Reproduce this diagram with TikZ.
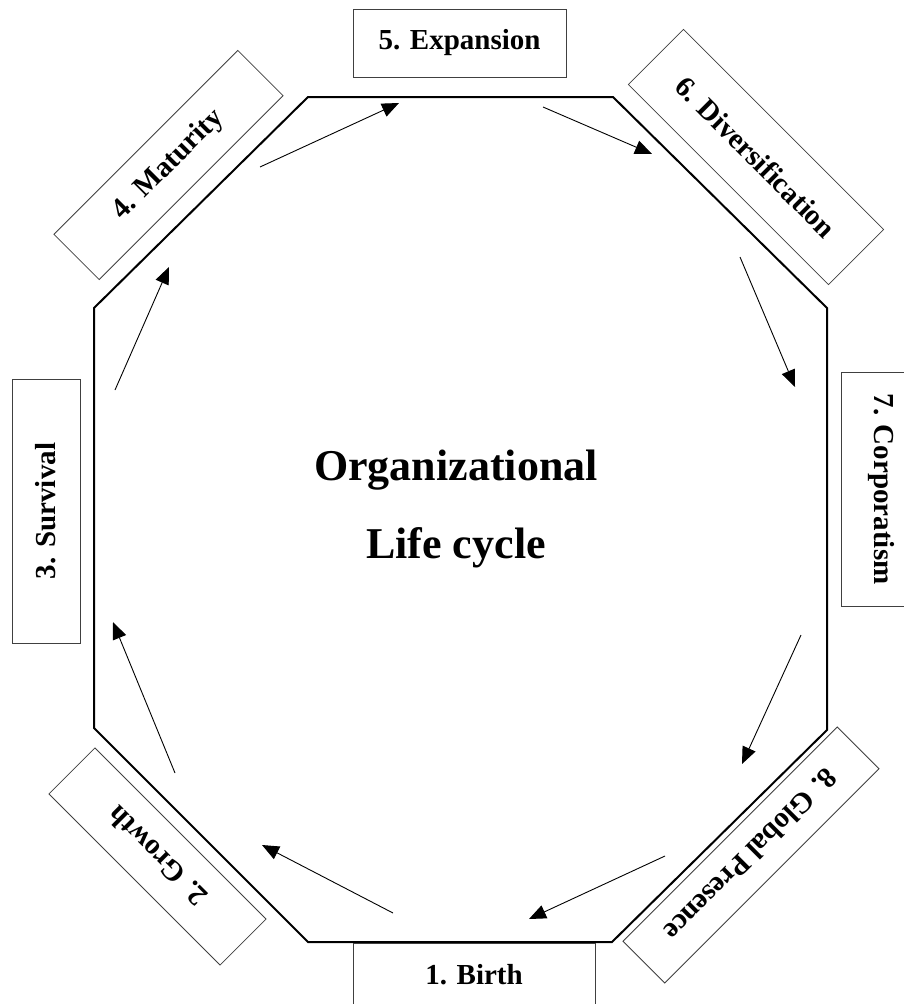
\documentclass[tikz,border=0pt]{standalone}
\usepackage{fontspec}
\setmainfont{Liberation Serif}
\usetikzlibrary{arrows.meta}
\tikzset{
  lab/.style={draw=black!75, line width=0.8pt, fill=white, inner sep=0pt,
    font=\fontsize{29}{34}\selectfont\bfseries, align=center},
  flow/.style={line width=0.9pt, -{Triangle[length=17pt,width=14pt]}},
  octa/.style={line width=2pt, line join=miter},
  title/.style={font=\fontsize{44}{78}\selectfont\bfseries, align=center}
}
\begin{document}
\begin{tikzpicture}[x=1pt,y=-1pt]
\useasboundingbox (0,0) rectangle (904,1004);
% octagon
\coordinate (o1) at (308,97);
\coordinate (o2) at (613,97);
\coordinate (o3) at (827,308);
\coordinate (o4) at (827,730);
\coordinate (o5) at (612,942);
\coordinate (o6) at (308,942);
\coordinate (o7) at (94,728);
\coordinate (o8) at (94,308);
\draw[octa] (o1) -- (o2) -- (o3) -- (o4) -- (o5) -- (o6) -- (o7) -- (o8) -- cycle;
% labels
\node[lab, minimum width=213pt, minimum height=68pt] (s5) at (459.5,43) {5. Expansion};
\node[lab, minimum width=283pt, minimum height=78pt, rotate=-45] (s6) at (756,157) {6. Diversification};
\node[lab, minimum width=234pt, minimum height=80pt, rotate=-90] (s7) at (881,489) {7. Corporatism};
\node[lab, minimum width=303pt, minimum height=59pt, rotate=-135] (s8) at (751,855) {8. Global Presence};
\node[lab, minimum width=242pt, minimum height=80pt, text height=20pt, text depth=17pt] (s1) at (474,983) {1. Birth};
\node[lab, minimum width=242pt, minimum height=65pt, rotate=135] (s2) at (157.5,856.5) {2. Growth};
\node[lab, minimum width=264pt, minimum height=68pt, rotate=90] (s3) at (46,511) {3. Survival};
\node[lab, minimum width=260pt, minimum height=64pt, rotate=45] (s4) at (168.5,165) {4. Maturity};
% title
\node[title] (t) at (456,509) {Organizational\\Life cycle};
% arrows
\coordinate (a1s) at (260,167); \coordinate (a1e) at (399,103);
\coordinate (a2s) at (543,107); \coordinate (a2e) at (652,154);
\coordinate (a3s) at (740,257); \coordinate (a3e) at (795,387);
\coordinate (a4s) at (801,635); \coordinate (a4e) at (742,764);
\coordinate (a5s) at (665,856); \coordinate (a5e) at (529,919);
\coordinate (a6s) at (393,913); \coordinate (a6e) at (262,845);
\coordinate (a7s) at (175,773); \coordinate (a7e) at (113,622);
\coordinate (a8s) at (115,390); \coordinate (a8e) at (169,267);
\draw[flow] (a1s) -- (a1e);
\draw[flow] (a2s) -- (a2e);
\draw[flow] (a3s) -- (a3e);
\draw[flow] (a4s) -- (a4e);
\draw[flow] (a5s) -- (a5e);
\draw[flow] (a6s) -- (a6e);
\draw[flow] (a7s) -- (a7e);
\draw[flow] (a8s) -- (a8e);
\end{tikzpicture}
\end{document}
